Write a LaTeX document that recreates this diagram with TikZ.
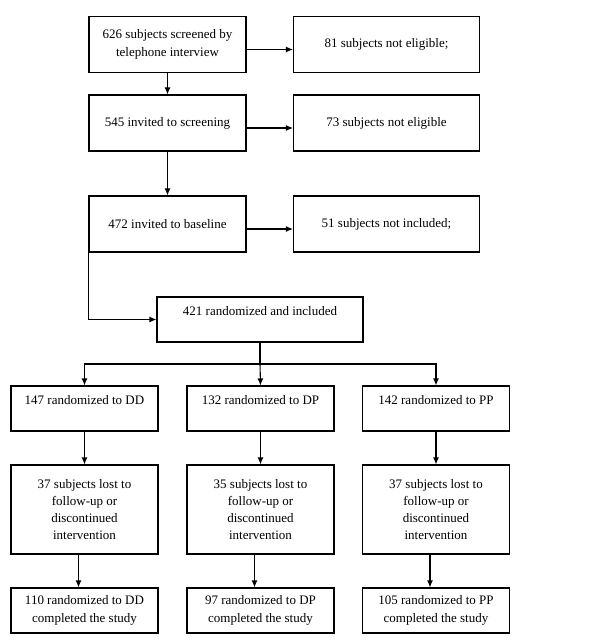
\documentclass[tikz,border=0pt]{standalone}
\usepackage{fontspec}
\setmainfont{Liberation Serif}
\usetikzlibrary{arrows.meta}

\begin{document}
\begin{tikzpicture}[x=1pt, y=-1pt,
    every node/.style={draw, rectangle, align=center, inner sep=2pt, line width=1.1pt,
      font=\fontsize{13}{17.3}\selectfont},
    stage/.style={minimum width=157pt, minimum height=56pt},
    excluded/.style={minimum width=186pt, minimum height=56pt},
    arm/.style={minimum width=147pt, minimum height=45pt},
    lost/.style={minimum width=147pt, minimum height=89pt},
    >={Latex[length=7pt, width=6pt]}]
            \useasboundingbox (0,0) rectangle (600,644);
            % Nodos
            \node[stage] (screened) at (167.5,44.5) {626 subjects screened by\\telephone interview};
            \node[excluded] (notelig1) at (386.5,44.5) {81 subjects not eligible;};
            \node[stage] (invited) at (167.5,123) {545 invited to screening};
            \node[excluded] (notelig2) at (386.5,123) {73 subjects not eligible};
            \node[stage] (baseline) at (167.5,224) {472 invited to baseline};
            \node[excluded] (notincl) at (386.5,224) {51 subjects not included;};
            \node[minimum width=206pt, minimum height=45pt] (random) at (260,319.5) {421 randomized and included\\\mbox{}};
            \coordinate (split) at (260,364);
            \node[arm] (dd) at (84.5,408.5) {147 randomized to DD\\\mbox{}};
            \node[arm] (dp) at (260.5,408.5) {132 randomized to DP\\\mbox{}};
            \node[arm] (pp) at (436,408.5) {142 randomized to PP\\\mbox{}};
            \node[lost] (lostdd) at (84.5,509.5) {37 subjects lost to\\follow-up or\\discontinued\\intervention};
            \node[lost] (lostdp) at (260.5,509.5) {35 subjects lost to\\follow-up or\\discontinued\\intervention};
            \node[lost] (lostpp) at (436,509.5) {37 subjects lost to\\follow-up or\\discontinued\\intervention};
            \node[arm] (donedd) at (84.5,610.5) {110 randomized to DD\\completed the study};
            \node[arm] (donedp) at (260.5,610.5) {97 randomized to DP\\completed the study};
            \node[arm] (donepp) at (436,610.5) {105 randomized to PP\\completed the study};

            % Aristas
            \draw[->, line width=1.1pt] ([yshift=-5pt]screened.east) -- ([yshift=-5pt]screened.east -| notelig1.west);
            \draw[->, line width=1.1pt] ([yshift=-5pt]invited.east) -- ([yshift=-5pt]invited.east -| notelig2.west);
            \draw[->, line width=1.1pt] ([yshift=-5pt]baseline.east) -- ([yshift=-5pt]baseline.east -| notincl.west);
            \draw[->, line width=1.1pt] (screened) -- (invited);
            \draw[->, line width=1.1pt] (invited) -- (baseline);
            \draw[->, line width=1.1pt] (baseline.south west) |- (random.west);
            \draw[line width=1.1pt] (random.south) -- (split);
            \draw[->, line width=1.1pt] (split) -| (dd.north);
            \draw[->, line width=1.1pt] (split) -- (dp.north);
            \draw[->, line width=1.1pt] (split) -| (pp.north);
            \draw[->, line width=1.1pt] (dd) -- (lostdd);
            \draw[->, line width=1.1pt] (dp) -- (lostdp);
            \draw[->, line width=1.1pt] (pp) -- (lostpp);
            \draw[->, line width=1.1pt] ([xshift=-6pt]lostdd.south) -- ([xshift=-6pt]donedd.north);
            \draw[->, line width=1.1pt] ([xshift=-6pt]lostdp.south) -- ([xshift=-6pt]donedp.north);
            \draw[->, line width=1.1pt] ([xshift=-6pt]lostpp.south) -- ([xshift=-6pt]donepp.north);
          \end{tikzpicture}
\end{document}
